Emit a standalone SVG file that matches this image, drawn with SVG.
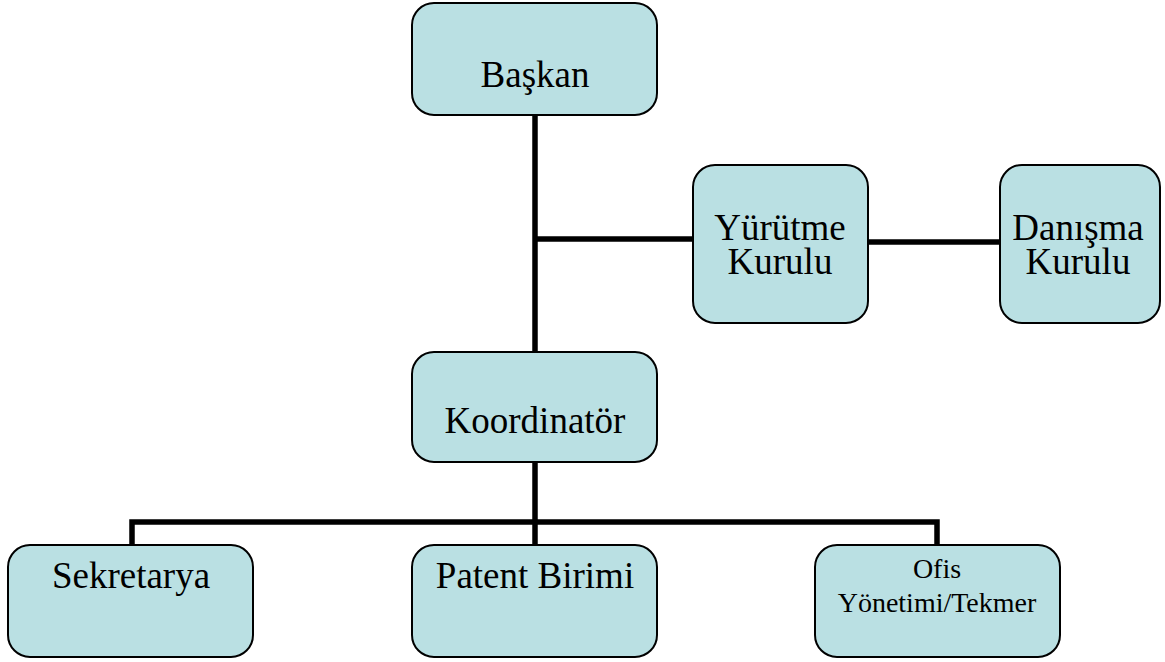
<svg xmlns="http://www.w3.org/2000/svg" width="1165" height="662" viewBox="0 0 1165 662">
<style>
.box{fill:#BAE0E3;stroke:#000;stroke-width:2}
.t{font-family:"Liberation Serif","Times New Roman",serif;font-size:37px;fill:#000;text-anchor:middle}
.s{font-size:28px}
.c{fill:none;stroke:#000;stroke-width:5.5;stroke-linecap:butt}
</style>
<rect width="1165" height="662" fill="#fff"/>
<g id="connectors">
<path class="c" d="M535 115V352"/>
<path class="c" d="M535 239H693"/>
<path class="c" d="M868 242H1000"/>
<path class="c" d="M535 462V545"/>
<path class="c" d="M132 545V522H937V545"/>
</g>
<g id="baskan"><rect class="box" x="412" y="3" width="245" height="112" rx="22"/><text class="t" x="535" y="87">Başkan</text></g>
<g id="yurutme"><rect class="box" x="693" y="165" width="175" height="158" rx="22"/><text class="t" x="780" y="240">Yürütme</text><text class="t" x="780" y="274">Kurulu</text></g>
<g id="danisma"><rect class="box" x="1000" y="165" width="160" height="158" rx="22"/><text class="t" x="1078" y="240">Danışma</text><text class="t" x="1078" y="274">Kurulu</text></g>
<g id="koordinator"><rect class="box" x="412" y="352" width="245" height="110" rx="22"/><text class="t" x="535" y="433">Koordinatör</text></g>
<g id="sekretarya"><rect class="box" x="8" y="545" width="245" height="112" rx="22"/><text class="t" x="131" y="588">Sekretarya</text></g>
<g id="patent"><rect class="box" x="412" y="545" width="245" height="112" rx="22"/><text class="t" x="535" y="588">Patent Birimi</text></g>
<g id="ofis"><rect class="box" x="815" y="545" width="245" height="112" rx="22"/><text class="t s" x="937" y="578">Ofis</text><text class="t s" x="937" y="612">Yönetimi/Tekmer</text></g>
</svg>
